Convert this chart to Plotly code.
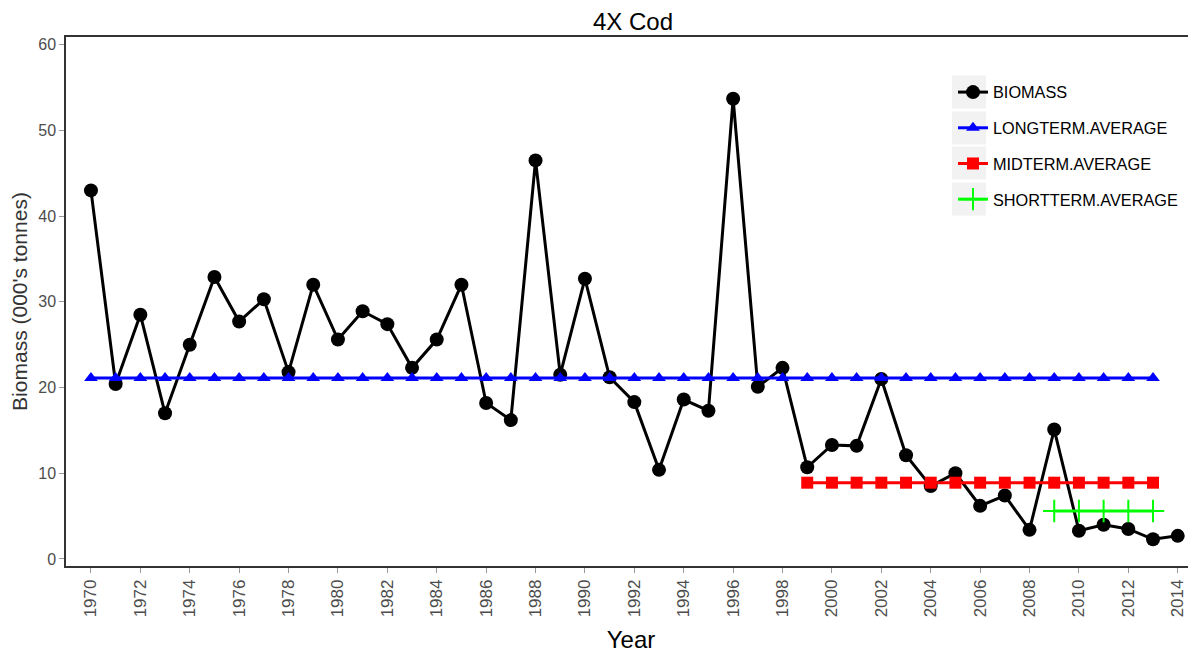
import plotly.graph_objects as go

years = list(range(1970, 2015))
biomass = [43.0, 20.4, 28.5, 17.0, 25.0, 32.9, 27.7, 30.3, 21.8, 32.0,
           25.6, 28.9, 27.4, 22.3, 25.6, 32.0, 18.2, 16.2, 46.5, 21.5,
           32.7, 21.2, 18.3, 10.4, 18.6, 17.3, 53.7, 20.1, 22.3, 10.7,
           13.3, 13.2, 21.0, 12.1, 8.5, 10.0, 6.2, 7.4, 3.4, 15.1,
           3.3, 4.0, 3.5, 2.3, 2.7]
long_years = list(range(1970, 2014))
long_avg = [21.1] * len(long_years)
mid_years = list(range(1999, 2014))
mid_avg = [8.9] * len(mid_years)
short_years = list(range(2009, 2014))
short_avg = [5.6] * len(short_years)
x_ticks = list(range(1970, 2015, 2))
y_ticks = [0, 10, 20, 30, 40, 50, 60]

fig = go.Figure()
fig.add_trace(go.Scatter(x=years, y=biomass, mode="lines+markers", name="BIOMASS",
                         legendgroup="a",
                         line=dict(color="black", width=3),
                         marker=dict(symbol="circle", size=14, color="black")))
fig.add_trace(go.Scatter(x=long_years, y=long_avg, mode="lines+markers", name="LONGTERM.AVERAGE",
                         legendgroup="b",
                         line=dict(color="#0000ff", width=3),
                         marker=dict(symbol="triangle-up", size=12, color="#0000ff")))
fig.add_trace(go.Scatter(x=mid_years, y=mid_avg, mode="lines+markers", name="MIDTERM.AVERAGE",
                         legendgroup="c",
                         line=dict(color="#ff0000", width=3),
                         marker=dict(symbol="square", size=12, color="#ff0000")))
fig.add_trace(go.Scatter(x=short_years, y=short_avg, mode="lines+markers", name="SHORTTERM.AVERAGE",
                         legendgroup="d",
                         line=dict(color="#00ff00", width=3),
                         marker=dict(symbol="cross-thin", size=16, color="#00ff00",
                                     line=dict(color="#00ff00", width=2))))

# page is offset by the 8px body margin; work in figure coordinates
OFF = 8
W, H = 1196 - OFF, 655 - OFF
L, R, T, B = 66 - OFF, 1196 - OFF, 37 - OFF, 566 - OFF


def px2paper_x(px):
    return (px - OFF - L) / (R - L)


def px2paper_y(py):
    return (B - (py - OFF)) / (B - T)


for c in [92, 128, 163, 199]:
    fig.add_shape(type="rect", xref="paper", yref="paper",
                  x0=px2paper_x(952), x1=px2paper_x(986),
                  y0=px2paper_y(c + 16.5), y1=px2paper_y(c - 16.5),
                  fillcolor="#f2f2f2", line=dict(width=0), layer="below")

fig.update_layout(
    width=W, height=H,
    margin=dict(l=L, r=W - R, t=T, b=H - B, autoexpand=False),
    paper_bgcolor="white", plot_bgcolor="white",
    font=dict(family="Liberation Sans, Arial, sans-serif", color="#4d4d4d"),
    title=dict(text="4X Cod", x=(633 - OFF) / W, xanchor="center", xref="container",
               y=1.0, yanchor="top", yref="container", pad=dict(t=5, b=0),
               font=dict(size=24, color="black")),
    showlegend=True,
    legend=dict(x=px2paper_x(953), y=px2paper_y(75), xanchor="left", yanchor="top",
                bgcolor="rgba(0,0,0,0)", font=dict(size=16.3, color="black"),
                traceorder="grouped", tracegroupgap=11.5, itemwidth=30),
    xaxis=dict(range=[1968.99, 2014.74], tickmode="array", tickvals=x_ticks,
               ticktext=[str(t) for t in x_ticks], tickangle=-90, automargin=False,
               showgrid=False, zeroline=False, showline=True, linecolor="#333333", linewidth=1.5,
               mirror=True, ticks="outside", ticklen=5, tickcolor="#999999",
               tickfont=dict(size=17, color="#4d4d4d"),
               title=dict(text="Year", font=dict(size=24, color="black"), standoff=15)),
    yaxis=dict(range=[-0.82, 60.9], tickmode="array", tickvals=y_ticks, automargin=False,
               showgrid=False, zeroline=False, showline=True, linecolor="#333333", linewidth=1.5,
               mirror=False, ticks="outside", ticklen=5, tickcolor="#999999",
               tickfont=dict(size=16, color="#4d4d4d"),
               title=dict(text="Biomass (000's tonnes)", font=dict(size=21, color="#333333"), standoff=9)),
)

fig.write_html("out.html")
